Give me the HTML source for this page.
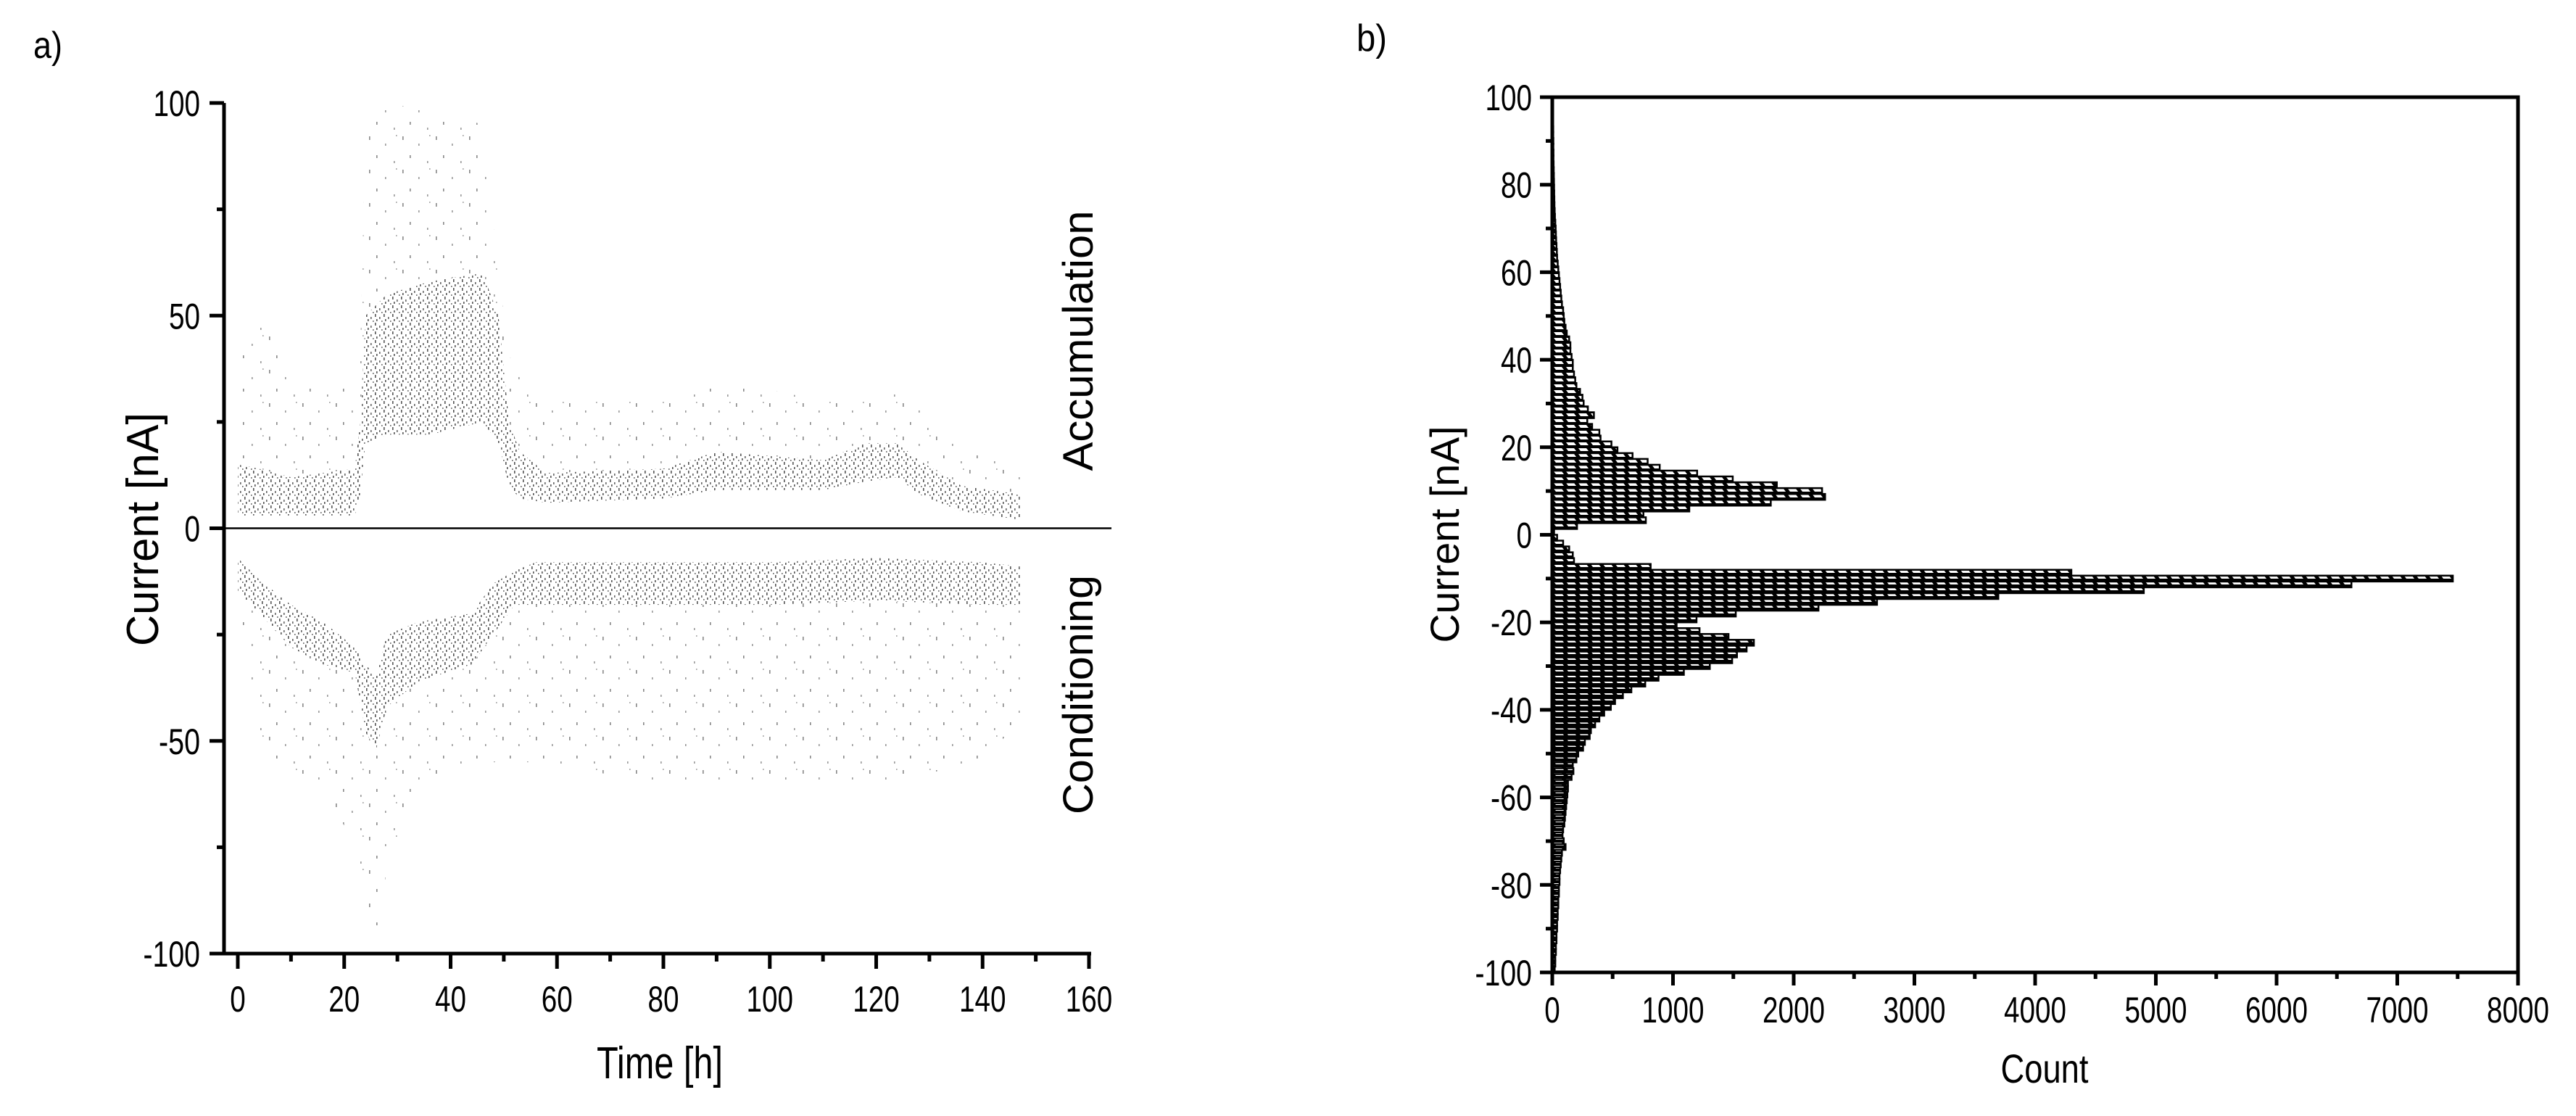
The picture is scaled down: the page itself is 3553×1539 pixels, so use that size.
<!DOCTYPE html>
<html><head><meta charset="utf-8"><style>
html,body{margin:0;padding:0;background:#fff;}
svg{display:block;}
text{font-family:"Liberation Sans",sans-serif;fill:#000;}
</style></head><body>
<svg id="fig" width="3553" height="1539" viewBox="0 0 3553 1539" xmlns="http://www.w3.org/2000/svg">
<defs>
<pattern id="dense" width="12" height="12" patternUnits="userSpaceOnUse">
<rect x="1" y="1" width="1.6" height="4" fill="#555"/><rect x="7" y="5" width="1.6" height="3" fill="#666"/>
<rect x="3" y="8" width="1.6" height="3" fill="#555"/><rect x="10" y="10" width="1.6" height="2" fill="#777"/>
</pattern>
<pattern id="sparse" width="46" height="46" patternUnits="userSpaceOnUse">
<rect x="3" y="4" width="1.6" height="5" fill="#888"/><rect x="25" y="14" width="1.6" height="3" fill="#999"/>
<rect x="13" y="30" width="1.6" height="4" fill="#888"/><rect x="37" y="38" width="1.6" height="3" fill="#999"/>
<rect x="40" y="2" width="1.6" height="2" fill="#aaa"/>
</pattern>
<pattern id="hatch" width="17" height="8" patternUnits="userSpaceOnUse">
<rect x="0" y="0" width="17" height="8" fill="#000"/>
<polygon points="1,2 12,2 15,6 4,6" fill="#fff"/>
</pattern>
</defs>
<g id="left"></g>
<g id="right"></g>
</svg>
<script>
// ---- Panel a data ----
const accT  = [0, 4, 10, 22, 23, 24, 28, 36, 46, 49, 51, 53, 58, 80, 90, 110, 118, 124, 128, 136, 147];
const accLo = [3, 3, 3, 3, 8, 20, 22, 22, 25, 20, 10, 7, 6, 7, 9, 9, 11, 12, 8, 4, 2];
const accHi = [15, 14, 12, 14, 25, 50, 55, 58, 60, 50, 25, 18, 13, 14, 18, 16, 20, 20, 16, 10, 8];
const accSp = [45, 52, 35, 35, 40, 95, 100, 98, 95, 60, 40, 40, 30, 30, 35, 30, 30, 35, 30, 20, 15];
const condT  = [0, 4, 10, 16, 22, 24, 26, 28, 34, 44, 48, 52, 56, 80, 100, 120, 140, 147];
const condHi = [-7, -12, -18, -22, -28, -32, -35, -25, -22, -20, -13, -10, -8, -8, -8, -7, -8, -9];
const condLo = [-15, -20, -28, -32, -34, -48, -52, -42, -36, -32, -25, -18, -18, -18, -18, -17, -18, -18];
const condSp = [-20, -50, -60, -60, -75, -90, -98, -80, -60, -55, -55, -55, -55, -60, -60, -60, -55, -45];
const xTicksA = [0, 20, 40, 60, 80, 100, 120, 140, 160];
const yTicksA = [-100, -50, 0, 50, 100];
// ---- Panel b data ----
const binStart = -100;
const binWidth = 4 / 3;
const counts = [20,25,25,30,30,35,35,40,40,45,45,50,50,55,55,60,60,65,70,75,80,110,95,85,90,100,105,110,115,120,
125,130,130,160,175,170,200,215,255,270,310,320,355,390,430,485,520,585,655,770,880,1090,1305,1490,1530,1610,1670,1460,1220,1030,1195,1520,2205,2690,3695,4900,6620,7460,4300,815,180,
170,140,90,40,15,
205,775,755,1135,1810,2260,2235,1860,1495,1200,890,790,665,540,490,400,390,330,290,345,295,
260,250,230,200,190,180,170,170,160,150,150,140,120,110,100,95,90,80,75,70,65,60,55,50,45,40,38,35,32,30,28,25,22,20,18,17,16,15,14,13,12,11,10,10,9,9,8,8,7,7,6,6,5];
const xTicksB = [0, 1000, 2000, 3000, 4000, 5000, 6000, 7000, 8000];
const yTicksB = [-100, -80, -60, -40, -20, 0, 20, 40, 60, 80, 100];

const NS = "http://www.w3.org/2000/svg";
function mk(parent, tag, attrs, txt) {
  const e = document.createElementNS(NS, tag);
  for (const k in attrs) e.setAttribute(k, attrs[k]);
  if (txt !== undefined) e.textContent = txt;
  parent.appendChild(e);
  return e;
}
function labW(s) { let w = 0; for (const c of s) w += (c === '-') ? 14 : 21.5; return w; }

// ===== Panel a =====
const L = document.getElementById('left');
const ax = t => 328 + (t / 160) * (1502 - 328);
const ay = v => 142 + (100 - v) / 200 * (1315 - 142);
function band(T, lo, hi) {
  let d = 'M' + T.map((t, i) => ax(t) + ',' + ay(hi[i])).join(' L');
  for (let i = T.length - 1; i >= 0; i--) d += ' L' + ax(T[i]) + ',' + ay(lo[i]);
  return d + 'Z';
}
let p;
p = mk(L, 'path', {d: band(accT, accHi, accSp), fill: 'url(#sparse)'});


p = mk(L, 'path', {d: band(accT, accLo, accHi), fill: 'url(#dense)'});


p = mk(L, 'path', {d: band(condT, condSp, condLo), fill: 'url(#sparse)'});


p = mk(L, 'path', {d: band(condT, condLo, condHi), fill: 'url(#dense)'});



p = mk(L, 'line', {x1: 309, x2: 1533, y1: ay(0), y2: ay(0), stroke: '#000', 'stroke-width': 2.5});


p = mk(L, 'path', {d: `M309,${ay(100)} V1315 H1505`, fill: 'none', stroke: '#000', 'stroke-width': 5});


for (let v = -100; v <= 100; v += 25) {
  const major = v % 50 === 0;
  mk(L, 'line', {x1: major ? 289 : 299, x2: 309, y1: ay(v), y2: ay(v), stroke: '#000', 'stroke-width': 5});
}
yTicksA.forEach(v => {
  const s = String(v);
  const t = mk(L, 'text', {x: 276, y: ay(v) + 18, 'text-anchor': 'end', 'font-size': 50, textLength: labW(s), lengthAdjust: 'spacingAndGlyphs'}, s);
  
  
});
for (let v = 0; v <= 160; v += 10) {
  const major = v % 20 === 0;
  mk(L, 'line', {x1: ax(v), x2: ax(v), y1: 1315, y2: major ? 1336 : 1326, stroke: '#000', 'stroke-width': 5});
}
xTicksA.forEach(v => {
  const s = String(v);
  const t = mk(L, 'text', {x: ax(v), y: 1395, 'text-anchor': 'middle', 'font-size': 50, textLength: labW(s), lengthAdjust: 'spacingAndGlyphs'}, s);
  
  
});

// ===== Panel b =====
const R = document.getElementById('right');
const bx = c => 2141 + (c / 8000) * (3473 - 2141);
const by = v => 134 + (100 - v) / 200 * (1341 - 134);
counts.forEach((c, i) => {
  const lo = binStart + i * binWidth, hi = lo + binWidth;
  const r = mk(R, 'rect', {x: bx(0), y: by(hi), width: Math.max(bx(c) - bx(0), 1), height: by(lo) - by(hi), fill: 'url(#hatch)', stroke: '#000', 'stroke-width': 2.5});
  
  
});
p = mk(R, 'rect', {x: 2141, y: 134, width: 3473 - 2141, height: 1341 - 134, fill: 'none', stroke: '#000', 'stroke-width': 5});


for (let v = -100; v <= 100; v += 10) {
  const major = v % 20 === 0;
  mk(R, 'line', {x1: major ? 2124 : 2132, x2: 2141, y1: by(v), y2: by(v), stroke: '#000', 'stroke-width': 5});
}
yTicksB.forEach(v => {
  const s = String(v);
  const t = mk(R, 'text', {x: 2113, y: by(v) + 18, 'text-anchor': 'end', 'font-size': 50, textLength: labW(s), lengthAdjust: 'spacingAndGlyphs'}, s);
  
  
});
for (let c = 0; c <= 8000; c += 500) {
  const major = c % 1000 === 0;
  mk(R, 'line', {x1: bx(c), x2: bx(c), y1: 1341, y2: major ? 1359 : 1350, stroke: '#000', 'stroke-width': 5});
}
xTicksB.forEach(c => {
  const s = String(c);
  const t = mk(R, 'text', {x: bx(c), y: 1410, 'text-anchor': 'middle', 'font-size': 50, textLength: labW(s), lengthAdjust: 'spacingAndGlyphs'}, s);
  
  
});
</script>
<script>
const fig = document.getElementById('fig');
function T(attrs, s, name) {
  const e = document.createElementNS("http://www.w3.org/2000/svg", 'text');
  for (const k in attrs) e.setAttribute(k, attrs[k]);
  e.textContent = s;
  
  
  fig.appendChild(e);
}
T({x: 46, y: 80, 'font-size': 52, textLength: 40, lengthAdjust: 'spacingAndGlyphs'}, 'a)', 'panel-label-a');
T({x: 1871, y: 70, 'font-size': 52, textLength: 42, lengthAdjust: 'spacingAndGlyphs'}, 'b)', 'panel-label-b');
T({x: 0, y: 0, 'font-size': 62, 'text-anchor': 'middle', transform: 'translate(218,730) rotate(-90)', textLength: 322, lengthAdjust: 'spacingAndGlyphs'}, 'Current [nA]', 'y-axis-title-a');
T({x: 910, y: 1487, 'font-size': 62, 'text-anchor': 'middle', textLength: 174, lengthAdjust: 'spacingAndGlyphs'}, 'Time [h]', 'x-axis-title-a');
T({x: 0, y: 0, 'font-size': 58, 'text-anchor': 'middle', transform: 'translate(1507,470) rotate(-90)', textLength: 359, lengthAdjust: 'spacingAndGlyphs'}, 'Accumulation', 'accumulation-label');
T({x: 0, y: 0, 'font-size': 58, 'text-anchor': 'middle', transform: 'translate(1507,958) rotate(-90)', textLength: 330, lengthAdjust: 'spacingAndGlyphs'}, 'Conditioning', 'conditioning-label');
T({x: 0, y: 0, 'font-size': 56, 'text-anchor': 'middle', transform: 'translate(2012,737) rotate(-90)', textLength: 299, lengthAdjust: 'spacingAndGlyphs'}, 'Current [nA]', 'y-axis-title-b');
T({x: 2820, y: 1493, 'font-size': 56, 'text-anchor': 'middle', textLength: 121, lengthAdjust: 'spacingAndGlyphs'}, 'Count', 'x-axis-title-b');
</script>
</body></html>
